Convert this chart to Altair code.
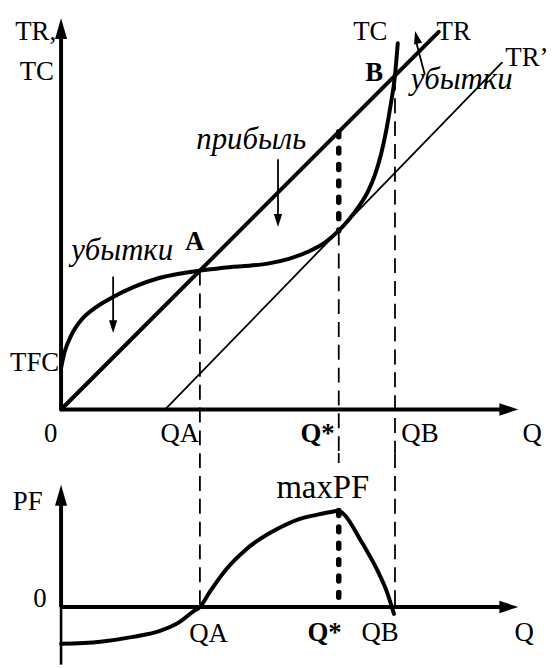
import altair as alt
import pandas as pd

# ---------------- values (model units) ----------------
# total cost curve TC(Q)
tc_q = [0.0, 0.10, 0.30, 0.60, 1.00, 1.50, 2.10, 2.80, 3.40, 4.00, 4.85, 5.42, 5.99,
        6.56, 7.13, 7.62, 8.00, 8.30, 8.60, 8.85, 9.05, 9.22, 9.37, 9.50, 9.62, 9.70]
tc_v = [1.20, 1.65, 2.15, 2.60, 2.94, 3.24, 3.53, 3.78, 3.91, 4.00, 4.10, 4.14, 4.21,
        4.34, 4.55, 4.82, 5.15, 5.48, 5.88, 6.30, 6.78, 7.36, 8.05, 8.80, 9.62, 10.55]
# total revenue TR (45 degree line) and the lower revenue line TR'
tr_q = [0.0, 10.88]
tr_v = [0.0, 10.88]
tr2_q = [3.0, 12.7]
tr2_v = [0.0, 9.99]
# profit function PF(Q): rising branch and falling branch
pf_rise_q = [0.0, 1.13, 2.07, 2.85, 3.42, 3.79, 4.00, 4.28, 4.76, 5.33, 6.25, 6.82, 7.39, 8.00]
pf_rise_v = [-1.06, -1.00, -0.86, -0.69, -0.43, -0.14, 0.00, 0.43, 1.09, 1.66, 2.26, 2.52, 2.66, 2.78]
pf_fall_q = [8.00, 8.16, 8.62, 9.11, 9.39, 9.59]
pf_fall_v = [2.78, 2.66, 1.94, 1.06, 0.43, -0.20]

Q_A, Q_STAR, Q_B = 4.0, 8.0, 9.62
TC_A, TC_STAR, TR_STAR, TC_B = 4.0, 5.15, 8.0, 9.62
PF_MAX = 2.78

# ---------------- layout ----------------
FONT = "Liberation Serif"
W, H_TOP, H_BOT = 542, 445, 213
X_MIN, X_MAX = -1.5, 14.0
YT_MIN, YT_MAX = -1.258, 11.467
YB_MIN, YB_MAX = -1.659, 4.432
X_TIP = 13.17      # end of Q axes
YT_TIP = 11.27     # end of TR,TC axis
YB_TIP = 3.52      # end of PF axis

xs = alt.Scale(domain=[X_MIN, X_MAX], nice=False, zero=False)
ys_top = alt.Scale(domain=[YT_MIN, YT_MAX], nice=False, zero=False)
ys_bot = alt.Scale(domain=[YB_MIN, YB_MAX], nice=False, zero=False)

ARROW_R = "M0,0 L-1,-0.33 L-1,0.33 Z"
ARROW_U = "M0,0 L-0.29,1 L0.29,1 Z"
ARROW_S = "M0,0 L-0.32,1 L0.32,1 Z"


def X(f):
    return alt.X(f, type="quantitative", scale=xs, axis=None)


def Y(f, s):
    return alt.Y(f, type="quantitative", scale=s, axis=None)


def curve(q, v, s, width=4, interp="monotone", seg=None):
    df = pd.DataFrame({"q": q, "v": v, "seg": seg if seg is not None else ["a"] * len(q)})
    return alt.Chart(df).mark_line(color="black", strokeWidth=width, interpolate=interp,
                                   strokeCap="round").encode(
        x=X("q"), y=Y("v", s), detail="seg:N", order="q:Q")


def rules(x, y, x2, y2, s, width=4, dash=None, cap="butt"):
    df = pd.DataFrame({"x": x, "y": y, "x2": x2, "y2": y2})
    kw = dict(color="black", strokeWidth=width, strokeCap=cap)
    if dash is not None:
        kw["strokeDash"] = dash
    return alt.Chart(df).mark_rule(**kw).encode(
        x=X("x"), y=Y("y", s), x2="x2:Q", y2="y2:Q")


def heads(x, y, s, shape, size, angle=0):
    df = pd.DataFrame({"x": x, "y": y})
    return alt.Chart(df).mark_point(shape=shape, size=size, filled=True, color="black",
                                    opacity=1, strokeWidth=0, angle=angle).encode(
        x=X("x"), y=Y("y", s))


def texts(labels, x, y, s, size=27, align="center", weight="normal", style="normal"):
    df = pd.DataFrame({"t": labels, "x": x, "y": y})
    return alt.Chart(df).mark_text(font=FONT, fontSize=size, align=align, baseline="alphabetic",
                                   fontWeight=weight, fontStyle=style, color="black").encode(
        x=X("x"), y=Y("y", s), text="t:N")


# ---------------- top panel: TR, TC ----------------
top_layers = [
    # axes
    rules([0, 0], [0, 0], [0, X_TIP - 0.4], [YT_TIP - 0.4, 0], ys_top, width=4),
    heads([X_TIP], [0], ys_top, ARROW_R, 1444),
    heads([0], [YT_TIP], ys_top, ARROW_U, 1764),
    # dashed verticals down to the lower panel
    rules([Q_A, Q_STAR, Q_B], [TC_A, TC_STAR, TC_B], [Q_A, Q_STAR, Q_B], [YT_MIN] * 3,
          ys_top, width=1.8, dash=[15, 8]),
    # thick dotted profit segment
    rules([Q_STAR], [TR_STAR], [Q_STAR], [TC_STAR], ys_top, width=5.5, dash=[5, 11.5], cap="round"),
    # lines
    curve(tr2_q, tr2_v, ys_top, width=1.8, interp="linear"),
    curve(tr_q, tr_v, ys_top, width=4, interp="linear"),
    curve(tc_q, tc_v, ys_top, width=4),
    # small annotation arrows
    rules([6.25, 1.50, 10.48], [7.21, 3.83, 9.64], [6.25, 1.50, 10.24], [5.55, 2.55, 10.55],
          ys_top, width=1.8),
    heads([6.25, 1.50], [5.26, 2.20], ys_top, ARROW_S, 676, angle=180),
    heads([10.20], [10.90], ys_top, ARROW_S, 676, angle=347),
    # labels
    texts(["TR,", "TC", "TFC", "TC", "TR", "0", "QA", "QB", "Q"],
          [-0.73, -0.70, -0.76, 8.91, 11.31, -0.30, 3.42, 10.34, 13.57],
          [10.64, 9.49, 1.12, 10.64, 10.64, -0.94, -0.94, -0.94, -0.94], ys_top),
    texts(["TR’"], [12.80], [9.89], ys_top, align="left"),
    texts(["A", "B", "Q*"], [3.85, 9.02, 7.39], [4.60, 9.47, -0.94], ys_top, weight="bold"),
    texts(["убытки", "убытки", "прибыль"], [1.76, 11.54, 5.48], [4.32, 9.24, 7.49], ys_top,
          size=31, style="italic"),
]
top = alt.layer(*top_layers).properties(width=W, height=H_TOP)

# ---------------- bottom panel: PF ----------------
bot_layers = [
    # axes
    rules([0], [YB_MIN], [0], [0], ys_bot, width=2.6),
    rules([0, 0], [0, 0], [0, X_TIP - 0.4], [YB_TIP - 0.4, 0], ys_bot, width=4),
    heads([X_TIP], [0], ys_bot, ARROW_R, 1444),
    heads([0], [YB_TIP], ys_bot, ARROW_U, 1764),
    # dashed verticals continued from the upper panel
    rules([Q_A, Q_STAR, Q_B], [YB_MAX] * 3, [Q_A, Q_STAR, Q_B], [0, 4.15, 0], ys_bot,
          width=1.8, dash=[15, 8]),
    # thick dotted max-profit segment
    rules([Q_STAR], [PF_MAX], [Q_STAR], [0], ys_bot, width=5.5, dash=[5, 11.5], cap="round"),
    # profit curve
    curve(pf_rise_q + pf_fall_q, pf_rise_v + pf_fall_v, ys_bot, width=4,
          seg=["r"] * len(pf_rise_q) + ["f"] * len(pf_fall_q)),
    # labels
    texts(["PF", "0", "QA", "QB", "Q"], [-0.96, -0.61, 4.25, 9.19, 13.34],
          [2.80, -0.0, -1.0, -0.97, -0.97], ys_bot),
    texts(["maxPF"], [7.54], [3.15], ys_bot, size=33),
    texts(["Q*"], [7.59], [-0.97], ys_bot, weight="bold"),
]
bot = alt.layer(*bot_layers).properties(width=W, height=H_BOT)

chart = alt.vconcat(top, bot, spacing=0, bounds="flush").properties(padding=0).configure_view(
    stroke="transparent")

chart.save("out.html", embed_options={"renderer": "svg", "actions": False})
